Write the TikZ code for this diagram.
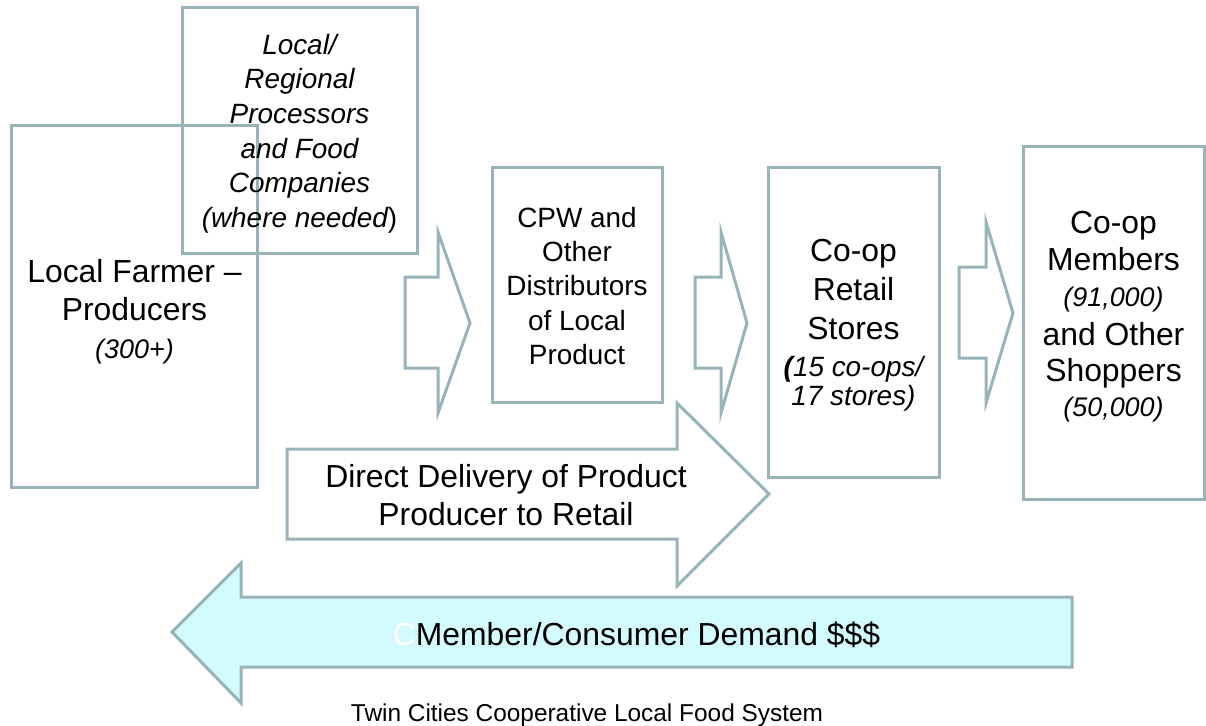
\documentclass[tikz,border=0pt]{standalone}
\usepackage{fontspec}
\setmainfont{Liberation Sans}
\definecolor{edge}{RGB}{152,180,184}
\definecolor{demandfill}{RGB}{211,251,253}
\begin{document}
\begin{tikzpicture}[x=1bp,y=-1bp,
  stage/.style={draw=edge, line width=3bp, inner sep=0pt},
  flow/.style={draw=edge, line width=3bp, fill=white, line join=miter},
  words/.style={align=center, inner sep=0pt, text=black},
  big/.style={font=\fontsize{32}{38}\selectfont},
  mid/.style={font=\fontsize{28}{34.5}\selectfont}]
\useasboundingbox (0,0) rectangle (1206,726);

% producers and processors (overlapping outlines)
\node[stage, minimum width=245bp, minimum height=361bp] (farmer) at (134.5,306.5) {};
\node[stage, minimum width=235bp, minimum height=245bp] (proc) at (299.5,130.5) {};
\node[words, big] (farmer-text) at ([yshift=-5bp]farmer.center)
  {Local Farmer --\\Producers\\{\fontsize{27}{38}\selectfont\itshape (300+)}};
\node[words, font=\fontsize{28}{34.7}\selectfont\itshape] (proc-text) at ([yshift=-3bp]proc.center)
  {Local/\\Regional\\Processors\\and Food\\Companies\\(where needed{\upshape)}};

% block arrows of the supply chain
\draw[flow] (405,277) -- (438,277) -- (438,232) -- (470,323) -- (438,413) -- (438,368) -- (405,368) -- cycle;
\node[stage, minimum width=170bp, minimum height=234bp] (cpw) at (577,285) {};
\node[words, mid] (cpw-text) at ([yshift=-1bp]cpw.center)
  {CPW and\\Other\\Distributors\\of Local\\Product};
\draw[flow] (695,277) -- (721,277) -- (721,232) -- (747,323) -- (721,413) -- (721,368) -- (695,368) -- cycle;
\node[stage, minimum width=171bp, minimum height=309bp] (retail) at (853.5,322.5) {};
\node[words, font=\fontsize{32}{39}\selectfont] (retail-text) at ([yshift=-3bp]retail.center)
  {Co-op\\Retail\\Stores\\[-2bp]{\fontsize{28}{39}\selectfont\itshape{\bfseries (}15 co-ops/}\\[-9bp]{\fontsize{28}{39}\selectfont\itshape 17 stores)}};
\draw[flow] (959,267) -- (986,267) -- (986,222) -- (1013,313) -- (986,403) -- (986,358) -- (959,358) -- cycle;
\node[stage, minimum width=181bp, minimum height=352bp] (members) at (1113.5,323) {};
\node[words, big] (members-text) at ([yshift=6bp]members.center)
  {Co-op\\[-1bp]Members\\[-2bp]{\fontsize{27}{38}\selectfont\itshape (91,000)}\\[1bp]and Other\\[-2bp]Shoppers\\[-2bp]{\fontsize{27}{38}\selectfont\itshape (50,000)}};

% direct delivery
\draw[flow] (287,449) -- (677,449) -- (677,403) -- (769,494) -- (677,586) -- (677,539) -- (287,539) -- cycle;
\node[words, big] (direct) at (506,495) {Direct Delivery of Product\\Producer to Retail};

% demand flowing back
\draw[flow, fill=demandfill] (1072,597) -- (241,597) -- (241,563) -- (172,632) -- (241,703) -- (241,667) -- (1072,667) -- cycle;
\node[words, big] (demand) at (636.5,635) {{\color{white}C}Member/Consumer Demand \$\$\$};

% caption
\node[font=\fontsize{24.5}{29}\selectfont, anchor=base, inner sep=0pt] (caption) at (587,721) {Twin Cities Cooperative Local Food System};
\end{tikzpicture}
\end{document}
